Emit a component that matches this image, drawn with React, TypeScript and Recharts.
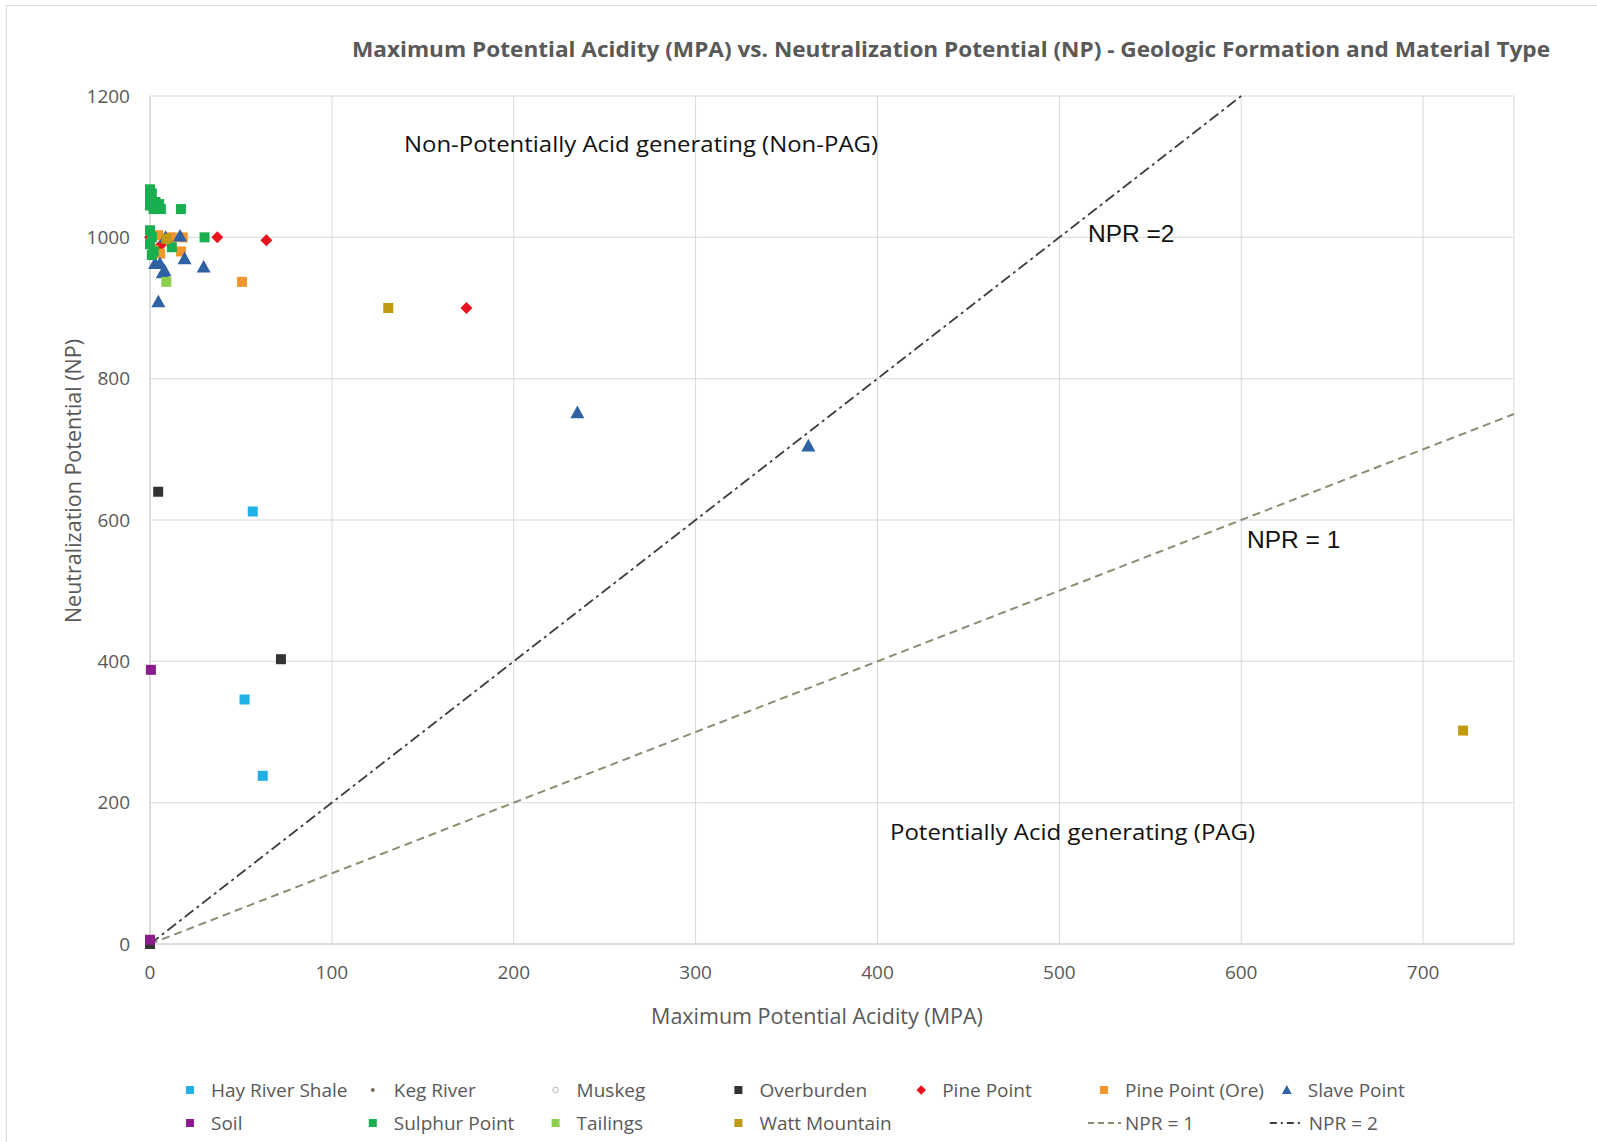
import React from "react";
import {
  CartesianGrid,
  ReferenceLine,
  Scatter,
  ScatterChart,
  XAxis,
  YAxis,
} from "recharts";

const X_TICKS = [0, 100, 200, 300, 400, 500, 600, 700];
const Y_TICKS = [0, 200, 400, 600, 800, 1000, 1200];

// MPA (x) vs NP (y)
const hayRiverShale = [
  { mpa: 56.5, np: 612 },
  { mpa: 52, np: 346 },
  { mpa: 62, np: 238 },
];
const kegRiver = [{ mpa: 2, np: 996 }];
const muskeg = [{ mpa: 0, np: 2 }];
const overburden = [
  { mpa: 4.5, np: 640 },
  { mpa: 72, np: 403 },
  { mpa: 0, np: 0 },
];
const pinePoint = [
  { mpa: 0, np: 1000 },
  { mpa: 6, np: 989 },
  { mpa: 37, np: 1000 },
  { mpa: 64, np: 996 },
  { mpa: 174, np: 900 },
];
const pinePointOre = [
  { mpa: 4.5, np: 1003 },
  { mpa: 12, np: 1000 },
  { mpa: 18, np: 1000 },
  { mpa: 5.6, np: 977 },
  { mpa: 2, np: 982 },
  { mpa: 17, np: 980 },
  { mpa: 50.6, np: 937 },
];
const slavePoint = [
  { mpa: 16.5, np: 1002 },
  { mpa: 8.5, np: 1000 },
  { mpa: 19, np: 970 },
  { mpa: 29.5, np: 958 },
  { mpa: 5.5, np: 963 },
  { mpa: 8, np: 953 },
  { mpa: 7, np: 950 },
  { mpa: 2.8, np: 963 },
  { mpa: 4.6, np: 909 },
  { mpa: 235, np: 752 },
  { mpa: 362, np: 705 },
];
const soil = [
  { mpa: 0.5, np: 388 },
  { mpa: 0, np: 6 },
];
const sulphurPoint = [
  { mpa: 0, np: 1068 },
  { mpa: 1, np: 1062 },
  { mpa: 0, np: 1055 },
  { mpa: 3, np: 1050 },
  { mpa: 0, np: 1045 },
  { mpa: 5, np: 1047 },
  { mpa: 2, np: 1040 },
  { mpa: 6, np: 1040 },
  { mpa: 17, np: 1040 },
  { mpa: 30, np: 1000 },
  { mpa: 0, np: 1010 },
  { mpa: 1, np: 1000 },
  { mpa: 0, np: 990 },
  { mpa: 2, np: 980 },
  { mpa: 12, np: 986 },
  { mpa: 1, np: 975 },
];
const tailings = [{ mpa: 9, np: 937 }];
const wattMountain = [
  { mpa: 9, np: 998 },
  { mpa: 131, np: 900 },
  { mpa: 722, np: 302 },
];

const FONT = "'Open Sans', sans-serif";
const GREY = "#595959";

type Shape = "square" | "dot" | "ring" | "diamond" | "triangle";

function marker(shape: Shape, color: string, scale = 1) {
  return (p: any) => {
    const { cx, cy } = p;
    if (cx == null || cy == null) return <g />;
    if (shape === "square") {
      const s = 10 * scale;
      return <rect x={cx - s / 2} y={cy - s / 2} width={s} height={s} fill={color} />;
    }
    if (shape === "dot") return <circle cx={cx} cy={cy} r={2.5 * scale} fill={color} />;
    if (shape === "ring")
      return <circle cx={cx} cy={cy} r={3.5 * scale} fill="#fff" stroke={color} strokeWidth={1} />;
    if (shape === "diamond") {
      const r = 6 * scale;
      return (
        <polygon
          points={`${cx},${cy - r} ${cx + r},${cy} ${cx},${cy + r} ${cx - r},${cy}`}
          fill={color}
        />
      );
    }
    const h = 7 * scale;
    return (
      <polygon
        points={`${cx},${cy - h} ${cx + h},${cy + h * 0.8} ${cx - h},${cy + h * 0.8}`}
        fill={color}
      />
    );
  };
}

const SERIES: { name: string; data: { mpa: number; np: number }[]; shape: Shape; color: string }[] = [
  { name: "Hay River Shale", data: hayRiverShale, shape: "square", color: "#1fb0e6" },
  { name: "Keg River", data: kegRiver, shape: "dot", color: "#7a6a58" },
  { name: "Muskeg", data: muskeg, shape: "ring", color: "#b8b8b8" },
  { name: "Overburden", data: overburden, shape: "square", color: "#333333" },
  { name: "Pine Point", data: pinePoint, shape: "diamond", color: "#e8131f" },
  { name: "Pine Point (Ore)", data: pinePointOre, shape: "square", color: "#f1962c" },
  { name: "Slave Point", data: slavePoint, shape: "triangle", color: "#2e62a3" },
  { name: "Soil", data: soil, shape: "square", color: "#8c1b8e" },
  { name: "Sulphur Point", data: sulphurPoint, shape: "square", color: "#19ae4f" },
  { name: "Tailings", data: tailings, shape: "square", color: "#8ad04c" },
  { name: "Watt Mountain", data: wattMountain, shape: "square", color: "#c09a12" },
];

const NPR1_COLOR = "#8b8c72";
const NPR2_COLOR = "#3c3c3c";
const NPR2_DASH = "11 4 3 4";

function Overlay() {
  const colX = (i: number) => 190 + i * 182.8;
  const rowY = [1090, 1123];
  return (
    <svg
      width={1597}
      height={1142}
      style={{ position: "absolute", left: 0, top: 0, pointerEvents: "none" }}
    >
      <text
        x={951}
        y={57}
        textAnchor="middle"
        fontFamily={FONT}
        fontWeight={700}
        fontSize={21}
        fill={GREY}
        textLength={1198}
        lengthAdjust="spacingAndGlyphs"
      >
        Maximum Potential Acidity (MPA) vs. Neutralization Potential (NP) - Geologic Formation and Material Type
      </text>

      <text x={404} y={152} fontFamily={FONT} fontSize={21.5} fill="#111" textLength={474} lengthAdjust="spacingAndGlyphs">
        Non-Potentially Acid generating (Non-PAG)
      </text>
      <text x={890} y={840} fontFamily={FONT} fontSize={21.5} fill="#111" textLength={365} lengthAdjust="spacingAndGlyphs">
        Potentially Acid generating (PAG)
      </text>
      <text x={1088} y={242} fontFamily="'Liberation Sans', Arial, sans-serif" fontSize={24.5} fill="#111">
        NPR =2
      </text>
      <text x={1247} y={548} fontFamily="'Liberation Sans', Arial, sans-serif" fontSize={24.5} fill="#111">
        NPR = 1
      </text>

      <text x={817} y={1024} textAnchor="middle" fontFamily={FONT} fontSize={21.5} fill={GREY}>
        Maximum Potential Acidity (MPA)
      </text>
      <text
        x={0}
        y={0}
        transform="translate(81 481) rotate(-90)"
        textAnchor="middle"
        fontFamily={FONT}
        fontSize={21.5}
        fill={GREY}
      >
        Neutralization Potential (NP)
      </text>

      {SERIES.map((s, i) => {
        const cx = colX(i % 7);
        const cy = rowY[Math.floor(i / 7)];
        const M = marker(s.shape, s.color, s.shape === "triangle" ? 0.7 : 0.8);
        return (
          <g key={s.name}>
            <M cx={cx} cy={cy} />
            <text x={cx + 21} y={cy + 6.5} fontFamily={FONT} fontSize={19} fill={GREY}>
              {s.name}
            </text>
          </g>
        );
      })}
      <g>
        <line x1={colX(5) - 16} y1={rowY[1]} x2={colX(5) + 17} y2={rowY[1]} stroke={NPR1_COLOR} strokeWidth={2} strokeDasharray="6 4" />
        <text x={colX(5) + 21} y={rowY[1] + 6.5} fontFamily={FONT} fontSize={19} fill={GREY}>
          NPR = 1
        </text>
        <line x1={colX(6) - 17} y1={rowY[1]} x2={colX(6) + 14} y2={rowY[1]} stroke={NPR2_COLOR} strokeWidth={2} strokeDasharray="7 4 2 4" />
        <text x={colX(6) + 22} y={rowY[1] + 6.5} fontFamily={FONT} fontSize={19} fill={GREY}>
          NPR = 2
        </text>
      </g>
    </svg>
  );
}

export default function App() {
  return (
    <div
      style={{
        position: "absolute",
        left: 0,
        top: 0,
        width: 1597,
        height: 1142,
        background: "#fff",
        overflow: "hidden",
      }}
    >
      <div
        style={{
          position: "absolute",
          left: 6,
          top: 5,
          width: 1620,
          height: 1160,
          border: "1px solid #d9d9d9",
        }}
      />
      <ScatterChart width={1597} height={1142} margin={{ top: 96, right: 83, bottom: 0, left: 0 }}>
        <CartesianGrid stroke="#d9d9d9" strokeWidth={1} />
        <XAxis
          type="number"
          dataKey="mpa"
          domain={[0, 750]}
          ticks={X_TICKS}
          height={198}
          tickSize={0}
          tickMargin={22}
          axisLine={{ stroke: "#d0d0d0" }}
          tick={{ fill: GREY, fontSize: 19, fontFamily: FONT }}
        />
        <YAxis
          type="number"
          dataKey="np"
          domain={[0, 1200]}
          ticks={Y_TICKS}
          width={150}
          tickSize={0}
          tickMargin={20}
          axisLine={{ stroke: "#d0d0d0" }}
          tick={{ fill: GREY, fontSize: 19, fontFamily: FONT }}
        />
        <ReferenceLine
          segment={[
            { x: 0, y: 0 },
            { x: 750, y: 750 },
          ]}
          stroke={NPR1_COLOR}
          strokeWidth={2}
          strokeDasharray="8 5"
        />
        <ReferenceLine
          segment={[
            { x: 0, y: 0 },
            { x: 600, y: 1200 },
          ]}
          stroke={NPR2_COLOR}
          strokeWidth={1.7}
          strokeDasharray={NPR2_DASH}
        />
        {SERIES.map((s) => (
          <Scatter
            key={s.name}
            name={s.name}
            data={s.data}
            shape={marker(s.shape, s.color)}
            isAnimationActive={false}
          />
        ))}
      </ScatterChart>
      <Overlay />
    </div>
  );
}
